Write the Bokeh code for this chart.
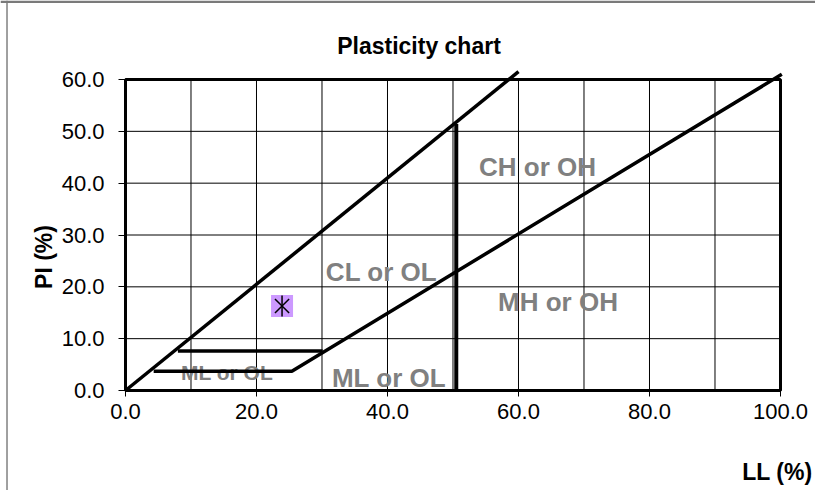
import math
from bokeh.plotting import figure
from bokeh.models import Range1d, FixedTicker, NumeralTickFormatter, ColumnDataSource, Span
from bokeh.core.properties import value
from bokeh.embed import file_html
from bokeh.resources import INLINE

# ---- data ----
upper_ll = [0.0, 60.0]
upper_pi = [0.0, 61.5]
lower_ll = [4.3, 25.4, 100.2]
lower_pi = [3.7, 3.7, 61.0]
step_ll = [8.0, 30.1]
step_pi = [7.6, 7.6]
ll50_ll = [50.5, 50.5]
ll50_pi = [0.0, 51.4]
sample_ll = [23.9]
sample_pi = [16.3]

x_ticks = [0, 20, 40, 60, 80, 100]
y_ticks = [0, 10, 20, 30, 40, 50, 60]
x_grid = [10, 20, 30, 40, 50, 60, 70, 80, 90]
y_grid = [10, 20, 30, 40, 50]

zone_text = ["CL or OL", "CH or OH", "MH or OH", "ML or OL", "ML or OL"]
zone_ll = [39.08, 62.9, 66.03, 40.23, 15.5]
zone_pi = [22.77, 43.2, 17.17, 2.32, 3.47]
zone_size = ["26px", "26px", "26px", "26px", "21px"]

title_text = "Plasticity chart"
x_title = "LL (%)"
y_title = "PI (%)"

FONT = "Liberation Sans"

# frame covers the whole canvas; axes are pinned at LL=0 / PI=0
p = figure(width=815, height=490,
           x_range=Range1d(-19.084, 105.344), y_range=Range1d(-19.293, 75.242),
           output_backend="svg", toolbar_location=None,
           min_border=0, min_border_left=0, min_border_right=0,
           min_border_top=0, min_border_bottom=0)
p.xgrid.visible = False
p.ygrid.visible = False
p.outline_line_color = None
p.background_fill_color = "white"
p.border_fill_color = "white"

for ax, ticks, tout, stand in ((p.xaxis[0], x_ticks, 6, 8), (p.yaxis[0], y_ticks, 7, 14)):
    ax.fixed_location = 0
    ax.ticker = FixedTicker(ticks=ticks, minor_ticks=[])
    ax.bounds = (ticks[0], ticks[-1])
    ax.formatter = NumeralTickFormatter(format="0.0")
    ax.axis_line_color = None
    ax.major_tick_out = tout
    ax.major_tick_in = 0
    ax.major_tick_line_color = "black"
    ax.major_tick_line_width = 1
    ax.minor_tick_line_color = None
    ax.major_label_standoff = stand
    ax.major_label_text_font = FONT
    ax.major_label_text_font_size = "22px"
    ax.major_label_text_color = "black"

# chart-area border (left edge and top strip)
p.add_layout(Span(location=-18.09, dimension="height", line_color="#808080", line_width=1.5))
p.add_layout(Span(location=75.0, dimension="width", line_color="#7a7a7a", line_width=2.5))

# grid lines
p.segment(x0=x_grid, y0=y_ticks[0], x1=x_grid, y1=y_ticks[-1], line_color="black", line_width=1)
p.segment(x0=x_ticks[0], y0=y_grid, x1=x_ticks[-1], y1=y_grid, line_color="black", line_width=1)

# plot-area border
p.quad(left=x_ticks[0], right=x_ticks[-1], bottom=y_ticks[0], top=y_ticks[-1],
       fill_color=None, line_color="black", line_width=3)

# zone labels
src = ColumnDataSource(dict(x=zone_ll, y=zone_pi, t=zone_text, s=zone_size))
p.text(x="x", y="y", text="t", source=src, text_font_size="s",
       text_font=value(FONT), text_font_style="bold", text_color="#808080",
       text_align="center", text_baseline="alphabetic")

# classification lines
p.line(upper_ll, upper_pi, line_color="black", line_width=3.5)
p.line(lower_ll, lower_pi, line_color="black", line_width=3.5)
p.line(step_ll, step_pi, line_color="black", line_width=3.5)
p.line(ll50_ll, ll50_pi, line_color="black", line_width=4)

# sample point
p.scatter(sample_ll, sample_pi, marker="square", size=22, fill_color="#CC99FF", line_color=None)
p.scatter(sample_ll, sample_pi, marker="x", size=20, line_color="black", line_width=1.5)
p.scatter(sample_ll, sample_pi, marker="dash", angle=math.pi / 2, size=21, line_color="black", line_width=1.5)

# chart title and axis titles
p.text(x=[44.81], y=[66.4], text=[title_text], text_align="center", text_baseline="alphabetic",
       text_font=value(FONT), text_font_size="23px", text_font_style="bold", text_color="black")
p.text(x=[-12.47], y=[25.76], text=[y_title], angle=math.pi / 2, text_align="center",
       text_baseline="alphabetic", text_font=value(FONT), text_font_size="23px",
       text_font_style="bold", text_color="black")
p.text(x=[104.89], y=[-15.63], text=[x_title], text_align="right", text_baseline="alphabetic",
       text_font=value(FONT), text_font_size="23px", text_font_style="bold", text_color="black")

open("out.html", "w").write(file_html(p, INLINE))
